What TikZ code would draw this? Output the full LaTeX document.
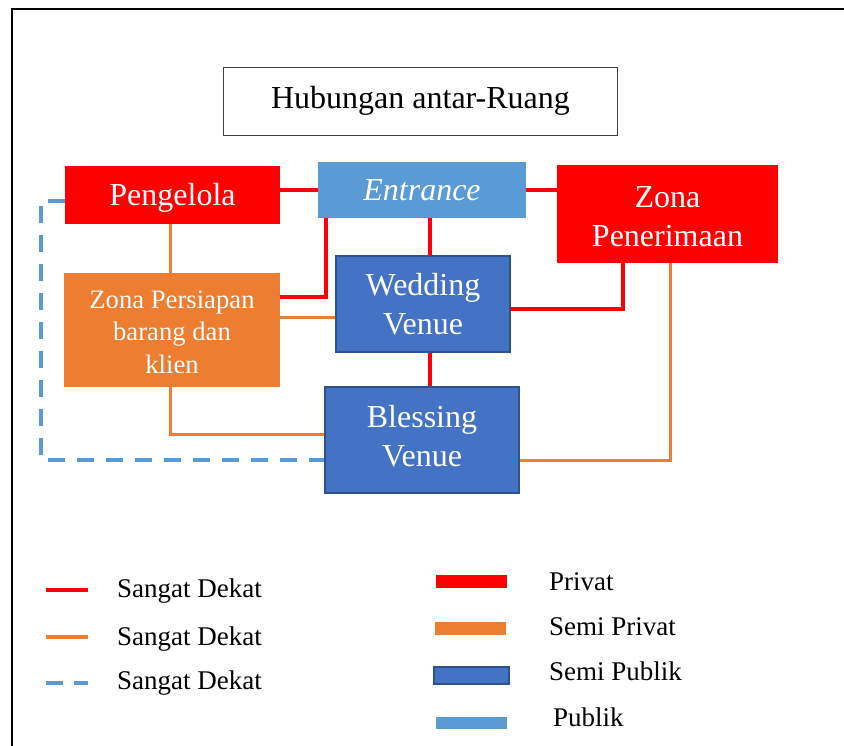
\documentclass[tikz,border=0pt]{standalone}
\usepackage{fontspec}
\setmainfont{Liberation Serif}
\definecolor{cred}{HTML}{FF0000}
\definecolor{corange}{HTML}{ED7D31}
\definecolor{cblue}{HTML}{4472C4}
\definecolor{cblueedge}{HTML}{2F528F}
\definecolor{clblue}{HTML}{5B9BD5}
\definecolor{cgrayedge}{HTML}{404040}
\begin{document}
\begin{tikzpicture}[x=1pt,y=-1pt,
  zone/.style={inner sep=0pt, align=center, text=white, font=\fontsize{32}{39}\selectfont},
  smallzone/.style={inner sep=0pt, align=center, text=white, font=\fontsize{26.67}{32.5}\selectfont},
  redline/.style={draw=cred, line width=3.3pt},
  oraline/.style={draw=corange, line width=3pt},
  bluedash/.style={draw=clblue, line width=4pt, dash pattern=on 17pt off 12pt},
  legtext/.style={inner sep=0pt, anchor=base west, font=\fontsize{27}{32}\selectfont},
  swatch/.style={inner sep=0pt, anchor=north west}
]
\useasboundingbox (0,0) rectangle (844,746);
% frame
\coordinate (fa) at (12,746);
\coordinate (fb) at (12,9);
\coordinate (fc) at (844,9);
\draw[line width=2pt, black] (fa) -- (fb) -- (fc);

% title
\node[draw=cgrayedge, line width=1.3pt, inner sep=0pt, minimum width=393.7pt, minimum height=67.7pt,
      font=\fontsize{32}{39}\selectfont, text height=22pt, text depth=7pt] (title) at (420.5,101.5) {Hubungan antar-Ruang};

% zones
\node[zone, fill=cred, minimum width=215pt, minimum height=58pt, text height=22pt, text depth=0pt] (peng) at (172.5,195) {Pengelola};
\node[zone, fill=clblue, minimum width=208pt, minimum height=56pt, text height=21pt, text depth=0pt, font=\fontsize{32}{39}\selectfont\itshape] (entr) at (422,190) {Entrance};
\node[zone, fill=cred, minimum width=221pt, minimum height=98pt, text height=66pt, text depth=0pt] (zpen) at (667.5,214) {Zona\\Penerimaan};
\node[zone, fill=cblue, draw=cblueedge, line width=2pt, minimum width=174pt, minimum height=96pt] (wed) at (423,304) {Wedding\\Venue};
\node[zone, fill=cblue, draw=cblueedge, line width=2pt, minimum width=194pt, minimum height=106pt, text height=61pt, text depth=8pt] (bless) at (422,440) {Blessing\\Venue};
\node[smallzone, fill=corange, minimum width=216pt, minimum height=114pt, text height=87pt, text depth=0pt] (zpers) at (172,330) {Zona Persiapan\\barang dan\\klien};

% red connectors
\draw[redline] (peng.east |- 0,190) -- (entr.west |- 0,190);
\draw[redline] (entr.east) -- (zpen.west |- entr.east);
\draw[redline] (entr.south -| 430,0) -- (wed.north -| 430,0);
\draw[redline] (entr.south -| 326,0) |- (zpers.east |- 0,297);
\draw[redline] (wed.east |- 0,309) -| (zpen.south -| 623,0);
\draw[redline] (wed.south -| 430,0) -- (bless.north -| 430,0);

% orange connectors
\draw[oraline] (peng.south -| 170,0) -- (zpers.north -| 170,0);
\draw[oraline] (zpers.east |- 0,318) -- (wed.west |- 0,318);
\draw[oraline] (zpers.south -| 170,0) |- (bless.west |- 0,434);
\draw[oraline] (bless.east |- 0,460) -| (zpen.south -| 670,0);

% blue dashed connector
\coordinate (dcorner) at (41,460);
\draw[bluedash] (peng.west |- 0,201) -| (dcorner) -- (bless.west |- dcorner);

% legend left
\coordinate (l1a) at (46,590); \coordinate (l1b) at (88,590);
\coordinate (l2a) at (46,637); \coordinate (l2b) at (88,637);
\coordinate (l3a) at (46,683); \coordinate (l3b) at (88,683);
\draw[draw=cred, line width=4pt] (l1a) -- (l1b);
\draw[draw=corange, line width=4pt] (l2a) -- (l2b);
\draw[draw=clblue, line width=4pt, dash pattern=on 17pt off 11pt] (l3a) -- (l3b);
\node[legtext] (lt1) at (117,597) {Sangat Dekat};
\node[legtext] (lt2) at (117,645) {Sangat Dekat};
\node[legtext] (lt3) at (117,689) {Sangat Dekat};

% legend right
\node[swatch, fill=cred, minimum width=71pt, minimum height=13pt] (sw1) at (436,575) {};
\node[swatch, fill=corange, minimum width=71pt, minimum height=13pt] (sw2) at (435,622) {};
\node[swatch, fill=cblue, draw=cblueedge, line width=2pt, minimum width=75pt, minimum height=17pt] (sw3) at (433,666) {};
\node[swatch, fill=clblue, minimum width=71pt, minimum height=12pt] (sw4) at (436,717) {};
\node[legtext] (rt1) at (549,590) {Privat};
\node[legtext] (rt2) at (549,635) {Semi Privat};
\node[legtext] (rt3) at (549,680) {Semi Publik};
\node[legtext] (rt4) at (553,726) {Publik};
\end{tikzpicture}
\end{document}
